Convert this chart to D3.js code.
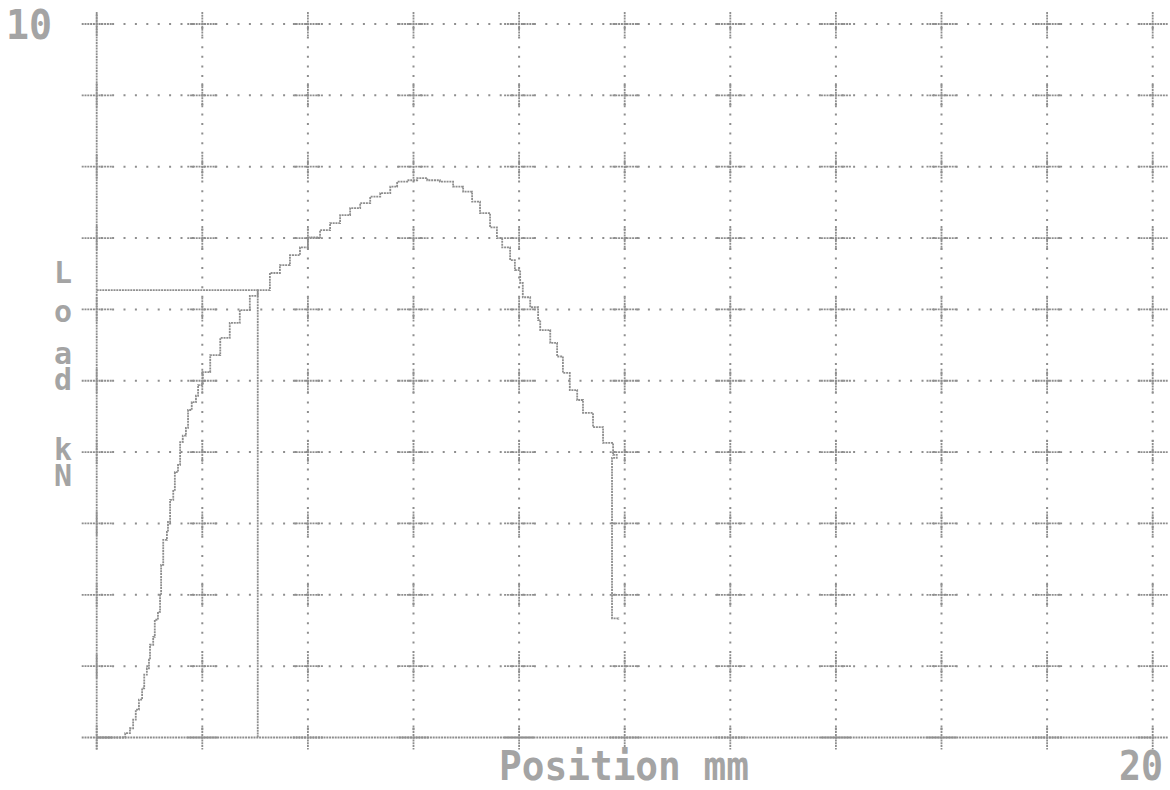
<!DOCTYPE html>
<html>
<head>
<meta charset="utf-8">
<script src="https://cdn.jsdelivr.net/npm/d3@7"></script>
<style>
  html, body { margin: 0; padding: 0; background: #ffffff; }
  svg { display: block; }
  text { font-family: "DejaVu Sans Mono", "Liberation Mono", monospace; font-weight: bold; fill: #a4a4a4; }
</style>
</head>
<body>
<svg id="chart" width="1170" height="790"></svg>
<script>
// Load / position trace of a tensile test (plotter output)
const positionMm = [0, 0.44, 0.54, 0.63, 0.69, 0.74, 0.80, 0.86, 0.90, 0.95, 0.99, 1.01, 1.07, 1.10, 1.16,
  1.20, 1.22, 1.26, 1.33, 1.35, 1.39, 1.45, 1.48, 1.54, 1.58, 1.63, 1.69, 1.73, 1.80, 1.88, 1.92,
  2.01, 2.15, 2.34, 2.52, 2.71, 2.90, 3.05, 3.28, 3.47, 3.66, 3.85, 4.00, 4.23, 4.42, 4.61, 4.80,
  4.99, 5.18, 5.37, 5.56, 5.69, 5.88, 6.07, 6.26, 6.50, 6.75, 6.94, 7.11, 7.26, 7.45, 7.58, 7.68,
  7.83, 7.92, 8.02, 8.07, 8.21, 8.36, 8.40, 8.59, 8.72, 8.83, 8.96, 9.10, 9.21, 9.40, 9.59, 9.78,
  9.85, 9.76, 9.76, 9.88];
const loadKn = [0, 0, 0.06, 0.13, 0.25, 0.39, 0.53, 0.69, 0.88, 0.97, 1.09, 1.30, 1.41, 1.65, 1.76,
  2.00, 2.42, 2.77, 2.88, 3.02, 3.33, 3.47, 3.72, 3.82, 4.14, 4.23, 4.34, 4.59, 4.70, 4.79, 4.94,
  5.12, 5.36, 5.60, 5.81, 5.99, 6.19, 6.27, 6.51, 6.62, 6.76, 6.87, 7.01, 7.11, 7.21, 7.32, 7.42,
  7.49, 7.58, 7.63, 7.72, 7.79, 7.81, 7.84, 7.81, 7.79, 7.72, 7.65, 7.51, 7.35, 7.15, 7.00, 6.87,
  6.69, 6.55, 6.37, 6.17, 6.03, 5.85, 5.71, 5.53, 5.34, 5.11, 4.87, 4.73, 4.55, 4.35, 4.13, 3.96,
  3.92, 3.86, 1.67, 1.65];

// Cursor marker on the curve
const markerPosition = 3.05;
const markerLoad = 6.27;

// Grid divisions and axis labels
const gridPositions = [0, 2, 4, 6, 8, 10, 12, 14, 16, 18, 20];
const gridLoads = [0, 1, 2, 3, 4, 5, 6, 7, 8, 9, 10];
const yMaxLabel = "10";
const xMaxLabel = "20";
const xTitle = "Position mm";
const yTitle = ["L", "o", "a", "d", "k", "N"];

const ink = "#8e8e8e";
const svg = d3.select("#chart");

const x = d3.scaleLinear().domain([0, 20]).range([96.7, 1152.7]);
const y = d3.scaleLinear().domain([0, 10]).range([737.5, 24]);

const g = svg.append("g");

// dotted grid lines
g.selectAll("line.hgrid").data(gridLoads.filter(d => d > 0)).join("line")
  .attr("x1", x(0)).attr("x2", x(20))
  .attr("y1", d => y(d)).attr("y2", d => y(d))
  .attr("stroke", ink).attr("stroke-width", 2)
  .attr("stroke-dasharray", "2 9.4").attr("stroke-dashoffset", -4);

g.selectAll("line.vgrid").data(gridPositions.filter(d => d > 0)).join("line")
  .attr("x1", d => x(d)).attr("x2", d => x(d))
  .attr("y1", y(10)).attr("y2", y(0))
  .attr("stroke", ink).attr("stroke-width", 2)
  .attr("stroke-dasharray", "2 7.6").attr("stroke-dashoffset", -3);

// solid axes (bottom and left)
g.append("line")
  .attr("x1", x(0)).attr("x2", x(20) + 2).attr("y1", y(0)).attr("y2", y(0))
  .attr("stroke", ink).attr("stroke-width", 1.8).attr("stroke-dasharray", "2 0.8");
g.append("line")
  .attr("x1", x(0)).attr("x2", x(0)).attr("y1", y(10) - 10).attr("y2", y(0) + 12)
  .attr("stroke", ink).attr("stroke-width", 1.8).attr("stroke-dasharray", "2 0.8");

// crosses at every grid intersection
const crosses = [];
gridPositions.forEach(px => gridLoads.forEach(ld => crosses.push({ px, ld })));
const cg = g.append("g");
cg.selectAll("line.ch").data(crosses).join("line")
  .attr("x1", d => x(d.px) - 15).attr("x2", d => x(d.px) + 15)
  .attr("y1", d => y(d.ld)).attr("y2", d => y(d.ld))
  .attr("stroke", ink).attr("stroke-width", 1.8).attr("stroke-dasharray", "2 0.8");
cg.selectAll("line.cv").data(crosses).join("line")
  .attr("x1", d => x(d.px)).attr("x2", d => x(d.px))
  .attr("y1", d => y(d.ld) - 12).attr("y2", d => y(d.ld) + 12)
  .attr("stroke", ink).attr("stroke-width", 1.8).attr("stroke-dasharray", "2 0.8");

// marker lines
g.append("line")
  .attr("x1", x(0)).attr("x2", x(markerPosition))
  .attr("y1", y(markerLoad)).attr("y2", y(markerLoad))
  .attr("stroke", ink).attr("stroke-width", 1.8).attr("stroke-dasharray", "2 0.8");
g.append("line")
  .attr("x1", x(markerPosition)).attr("x2", x(markerPosition))
  .attr("y1", y(markerLoad)).attr("y2", y(0))
  .attr("stroke", ink).attr("stroke-width", 1.8).attr("stroke-dasharray", "2 0.8");

// load curve
const pts = positionMm.map((p, i) => [p, loadKn[i]]);
g.append("path")
  .datum(pts)
  .attr("d", d3.line().x(d => x(d[0])).y(d => y(d[1])).curve(d3.curveStepAfter))
  .attr("fill", "none")
  .attr("stroke", ink).attr("stroke-width", 1.8)
  .attr("stroke-dasharray", "2 0.8");

// labels
svg.append("text").attr("x", 6).attr("y", 39)
  .attr("font-size", 40).attr("textLength", 46).attr("lengthAdjust", "spacingAndGlyphs")
  .text(yMaxLabel);
svg.append("text").attr("x", 1119).attr("y", 780)
  .attr("font-size", 40).attr("textLength", 44).attr("lengthAdjust", "spacingAndGlyphs")
  .text(xMaxLabel);
svg.append("text").attr("x", 499).attr("y", 780)
  .attr("font-size", 40).attr("textLength", 250).attr("lengthAdjust", "spacingAndGlyphs")
  .text(xTitle);

// vertical axis title, one character per row
const yTitleBaselines = [283, 322, 364, 390, 460, 486];
svg.append("text")
  .attr("text-anchor", "middle").attr("font-size", 30)
  .selectAll("tspan").data(yTitle).join("tspan")
  .attr("x", 63).attr("y", (d, i) => yTitleBaselines[i])
  .text(d => d);
</script>
</body>
</html>
